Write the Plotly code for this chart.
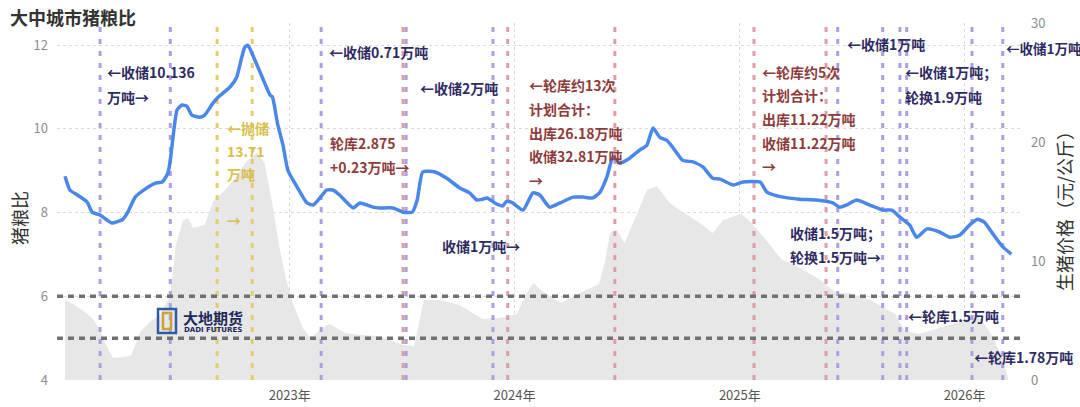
import plotly.graph_objects as go

FONT = "Noto Sans CJK SC"

# 猪粮比（左轴）
ratio_dates = [
    "2022-01-01", "2022-01-09", "2022-01-21", "2022-02-06", "2022-02-14", "2022-02-27",
    "2022-03-18", "2022-04-05", "2022-04-13", "2022-04-25", "2022-05-14", "2022-05-27",
    "2022-06-08", "2022-06-17", "2022-06-21", "2022-07-02", "2022-07-10", "2022-07-18",
    "2022-07-26", "2022-08-08", "2022-08-16", "2022-08-29", "2022-09-07", "2022-09-26",
    "2022-10-07", "2022-10-15", "2022-10-20", "2022-10-25", "2022-11-02", "2022-11-18",
    "2022-11-30", "2022-12-04", "2022-12-12", "2022-12-21", "2022-12-29", "2023-01-13",
    "2023-01-29", "2023-02-08", "2023-02-19", "2023-03-02", "2023-03-12", "2023-03-23",
    "2023-04-14", "2023-04-25", "2023-05-16", "2023-05-27", "2023-06-18", "2023-07-04",
    "2023-07-19", "2023-07-27", "2023-08-05", "2023-08-25", "2023-09-13", "2023-10-04",
    "2023-10-20", "2023-11-01", "2023-11-10", "2023-11-18", "2023-11-30", "2023-12-13",
    "2023-12-19", "2023-12-29", "2024-01-15", "2024-01-31", "2024-02-11", "2024-02-27",
    "2024-03-15", "2024-04-05", "2024-04-21", "2024-05-07", "2024-05-18", "2024-05-30",
    "2024-06-09", "2024-06-20", "2024-07-06", "2024-07-22", "2024-08-03", "2024-08-13",
    "2024-08-24", "2024-09-04", "2024-09-14", "2024-09-30", "2024-10-17", "2024-11-02",
    "2024-11-18", "2024-11-30", "2024-12-21", "2025-01-06", "2025-02-03", "2025-02-14",
    "2025-03-12", "2025-04-08", "2025-05-06", "2025-06-01", "2025-06-12", "2025-06-23",
    "2025-07-10", "2025-07-31", "2025-08-21", "2025-09-05", "2025-09-18", "2025-10-04",
    "2025-10-15", "2025-11-01", "2025-11-22", "2025-12-08", "2025-12-24", "2026-01-09",
    "2026-01-22", "2026-02-02", "2026-02-15", "2026-03-04", "2026-03-18",
]
ratio_values = [
    8.87, 8.54, 8.42, 8.25, 8.01, 7.94,
    7.75, 7.84, 8.01, 8.37, 8.59, 8.70,
    8.73, 8.94, 9.25, 10.45, 10.57, 10.54,
    10.33, 10.28, 10.33, 10.61, 10.76, 11.00,
    11.24, 11.71, 11.95, 12.00, 11.76, 11.21,
    10.81, 10.76, 10.14, 9.61, 9.01, 8.61,
    8.23, 8.18, 8.35, 8.54, 8.54, 8.42,
    8.11, 8.23, 8.13, 8.11, 8.11, 8.01,
    8.01, 8.30, 8.97, 8.97, 8.82, 8.59,
    8.47, 8.30, 8.32, 8.35, 8.23, 8.16,
    8.27, 8.23, 8.06, 8.47, 8.42, 8.13,
    8.23, 8.37, 8.37, 8.35, 8.47, 8.85,
    9.33, 9.18, 9.30, 9.49, 9.61, 10.02,
    9.80, 9.73, 9.56, 9.25, 9.21, 9.09,
    8.82, 8.80, 8.66, 8.73, 8.73, 8.49,
    8.37, 8.32, 8.30, 8.23, 8.13, 8.18,
    8.30, 8.18, 8.06, 8.06, 7.89, 7.70,
    7.41, 7.61, 7.53, 7.41, 7.46, 7.70,
    7.84, 7.77, 7.51, 7.18, 7.01,
]

# 生猪价格（右轴，灰色面积）
price_dates = [
    "2022-01-01", "2022-01-17", "2022-02-02", "2022-02-14", "2022-02-27", "2022-03-07",
    "2022-03-20", "2022-04-08", "2022-04-19", "2022-05-03", "2022-05-19", "2022-06-04",
    "2022-06-21", "2022-06-30", "2022-07-12", "2022-07-20", "2022-07-28", "2022-08-16",
    "2022-08-29", "2022-09-18", "2022-10-05", "2022-10-22", "2022-11-09", "2022-11-21",
    "2022-12-04", "2022-12-16", "2022-12-26", "2023-01-06", "2023-01-22", "2023-02-04",
    "2023-02-19", "2023-03-06", "2023-04-01", "2023-04-25", "2023-05-26", "2023-07-04",
    "2023-07-22", "2023-08-07", "2023-09-02", "2023-10-04", "2023-11-10", "2023-12-08",
    "2024-01-05", "2024-01-19", "2024-02-01", "2024-02-13", "2024-03-16", "2024-04-16",
    "2024-05-17", "2024-05-27", "2024-06-04", "2024-06-15", "2024-06-28", "2024-08-03",
    "2024-08-19", "2024-09-09", "2024-09-25", "2024-10-28", "2024-11-18", "2024-12-05",
    "2025-01-03", "2025-01-17", "2025-02-06", "2025-03-09", "2025-04-12", "2025-05-09",
    "2025-06-07", "2025-06-28", "2025-08-01", "2025-09-10", "2025-09-26", "2025-10-19",
    "2025-12-14", "2026-01-22", "2026-02-13", "2026-03-02", "2026-03-13",
]
price_values = [
    6.72, 6.30, 5.71, 5.21, 4.20, 3.11,
    1.85, 1.93, 2.10, 4.03, 4.87, 5.46,
    7.14, 11.34, 13.45, 13.61, 12.77, 13.03,
    14.96, 15.97, 16.97, 18.32, 19.08, 18.24,
    14.71, 10.92, 8.49, 6.47, 4.37, 3.53,
    4.20, 4.71, 3.95, 3.78, 3.70, 2.94,
    2.86, 6.72, 6.72, 6.30, 5.13, 5.21,
    5.55, 7.14, 8.15, 7.56, 6.47, 7.31,
    8.07, 9.92, 12.35, 12.61, 11.51, 15.97,
    16.30, 14.87, 14.29, 13.19, 12.35, 13.45,
    13.95, 13.36, 12.18, 10.17, 9.33, 8.49,
    7.31, 7.31, 6.72, 5.55, 4.12, 3.87,
    4.71, 5.55, 3.87, 2.10, 0.08,
]

# 政策事件竖线
store_dates = [  # 收储
    "2022-02-27", "2022-06-21", "2023-02-21", "2023-07-09", "2023-11-27", "2025-06-09",
    "2025-08-21", "2025-09-18", "2025-09-29", "2026-01-13", "2026-03-04",
]
rotate_dates = [  # 轮库
    "2023-07-04", "2023-12-21", "2024-06-12", "2025-01-24", "2025-05-21",
]
release_dates = ["2022-09-05", "2022-11-01"]  # 抛储

warn_levels = [6, 5]

year_ticks = ["2023-01-01", "2024-01-01", "2025-01-01", "2026-01-01"]
year_labels = ["2023年", "2024年", "2025年", "2026年"]

RATIO_RANGE = [4, 12.53]
PRICE_RANGE = [0, 30]

NAVY = "#2e2a62"
RED = "#8e3b3b"
YELLOW = "#d8be4f"

# plot area in pixels
L, R, T, B = 57, 1020, 23, 380


def px_x(p):
    return (p - L) / (R - L)


def px_y(p):
    return (B - p) / (B - T)


def vlines(dates, color, name):
    xs, ys = [], []
    for d in dates:
        xs += [d, d, None]
        ys += [RATIO_RANGE[0], RATIO_RANGE[1], None]
    return go.Scatter(x=xs, y=ys, mode="lines", yaxis="y2", name=name,
                      line=dict(color=color, width=3, dash="5px,7px"),
                      hoverinfo="skip", showlegend=False)


fig = go.Figure()

fig.add_trace(go.Scatter(
    x=price_dates, y=price_values, mode="lines", fill="tozeroy",
    fillcolor="#e7e7e7", line=dict(width=0, color="#e7e7e7"),
    name="生猪价格", showlegend=False,
))

fig.add_trace(vlines(release_dates, "#e3cd6e", "抛储"))
fig.add_trace(vlines(rotate_dates, "#dc9ea2", "轮库"))
fig.add_trace(vlines(store_dates, "#ab9fe2", "收储"))

fig.add_trace(go.Scatter(
    x=ratio_dates, y=ratio_values, mode="lines", yaxis="y2",
    line=dict(color="#4a87ea", width=3.5, shape="spline", smoothing=0.5),
    name="猪粮比", showlegend=False,
))

for lv in warn_levels:
    fig.add_shape(type="line", xref="paper", x0=0, x1=1, yref="y2", y0=lv, y1=lv,
                  line=dict(color="#707070", width=3.5, dash="6px,5px"), layer="above")


def add_block(x, y, lines, color, step=23.5, size=14):
    for i, t in enumerate(lines):
        if not t:
            continue
        fig.add_annotation(
            x=px_x(x), y=px_y(y + i * step), xref="paper", yref="paper",
            text=f"<b>{t}</b>", showarrow=False, xanchor="left", yanchor="middle",
            font=dict(size=size, color=color, family=FONT),
        )


add_block(105, 72, ["←收储10.136", "万吨→"], NAVY, step=25)
add_block(327, 52, ["←收储0.71万吨"], NAVY)
add_block(418, 88, ["←收储2万吨"], NAVY)
add_block(440, 246, ["收储1万吨→"], NAVY)
add_block(845, 44, ["←收储1万吨"], NAVY)
add_block(903, 72, ["←收储1万吨；", "轮换1.9万吨"], NAVY, step=25)
add_block(1004, 48, ["←收储1万吨"], NAVY, size=13.5)
add_block(788, 233, ["收储1.5万吨；", "轮换1.5万吨→"], NAVY, step=24)
add_block(906, 316, ["←轮库1.5万吨"], NAVY)
add_block(972, 357, ["←轮库1.78万吨"], NAVY)

add_block(328, 143, ["轮库2.875", "+0.23万吨→"], RED)
add_block(527, 85, ["←轮库约13次", "计划合计：", "出库26.18万吨", "收储32.81万吨", "→"], RED, step=23.8)
add_block(760, 72, ["←轮库约5次", "计划合计：", "出库11.22万吨", "收储11.22万吨", "→"], RED, step=23.5)

add_block(225, 128, ["←抛储", "13.71", "万吨", "", "→"], YELLOW, step=23)

# 标题与轴标题
fig.add_annotation(x=px_x(8), y=px_y(17), xref="paper", yref="paper", text="<b>大中城市猪粮比</b>",
                   showarrow=False, xanchor="left", yanchor="middle",
                   font=dict(size=18, color="#333333", family=FONT))
fig.add_annotation(x=px_x(19), y=px_y(218), xref="paper", yref="paper", text="猪粮比",
                   showarrow=False, textangle=-90, xanchor="center", yanchor="middle",
                   font=dict(size=18, color="#333333", family=FONT))
fig.add_annotation(x=px_x(1064), y=px_y(207), xref="paper", yref="paper",
                   text="生猪价格（元/公斤）", showarrow=False, textangle=-90,
                   xanchor="center", yanchor="middle",
                   font=dict(size=18, color="#333333", family=FONT))

# logo
fig.add_shape(type="rect", xref="paper", yref="paper",
              x0=px_x(158), x1=px_x(176), y0=px_y(333), y1=px_y(309),
              line=dict(color="#2f5aa8", width=2.5), fillcolor="rgba(0,0,0,0)")
fig.add_shape(type="rect", xref="paper", yref="paper",
              x0=px_x(163), x1=px_x(171), y0=px_y(329), y1=px_y(313),
              line=dict(color="#c9a23a", width=2.5), fillcolor="rgba(0,0,0,0)")
fig.add_annotation(x=px_x(181), y=px_y(317), xref="paper", yref="paper", text="<b>大地期货</b>",
                   showarrow=False, xanchor="left", yanchor="middle",
                   font=dict(size=15, color="#1d2a5a", family=FONT))
fig.add_annotation(x=px_x(182), y=px_y(330), xref="paper", yref="paper", text="<b>DADI FUTURES</b>",
                   showarrow=False, xanchor="left", yanchor="middle",
                   font=dict(size=7, color="#1d2a5a", family="DejaVu Sans"))

fig.update_layout(
    width=1080, height=407,
    margin=dict(l=L, r=1080 - R, t=T, b=407 - B),
    plot_bgcolor="white", paper_bgcolor="white",
    font=dict(family=FONT),
    xaxis=dict(
        type="date", range=["2021-12-19", "2026-04-01"],
        tickvals=year_ticks, ticktext=year_labels,
        showgrid=True, gridcolor="#dadada", griddash="dot", gridwidth=1,
        zeroline=False, showline=False, ticks="", automargin=False,
        tickfont=dict(size=13, color="#555555"), ticklabelstandoff=6,
    ),
    yaxis=dict(
        range=PRICE_RANGE, tickvals=[0, 10, 20, 30], side="right",
        showgrid=False, zeroline=False, showline=False, automargin=False,
        tickfont=dict(size=13, color="#8c8c8c"), ticklabelstandoff=10,
    ),
    yaxis2=dict(
        range=RATIO_RANGE, tickvals=[4, 6, 8, 10, 12], side="left", overlaying="y",
        showgrid=True, gridcolor="#dadada", griddash="dot", gridwidth=1,
        zeroline=False, showline=False, automargin=False,
        tickfont=dict(size=13, color="#8c8c8c"), ticklabelstandoff=8,
    ),
    showlegend=False,
)

# the page body has a default 8px margin; remove it so the figure fills the window
fig.write_html("out.html", config={"displayModeBar": False},
               post_script="document.body.style.margin='0';")
